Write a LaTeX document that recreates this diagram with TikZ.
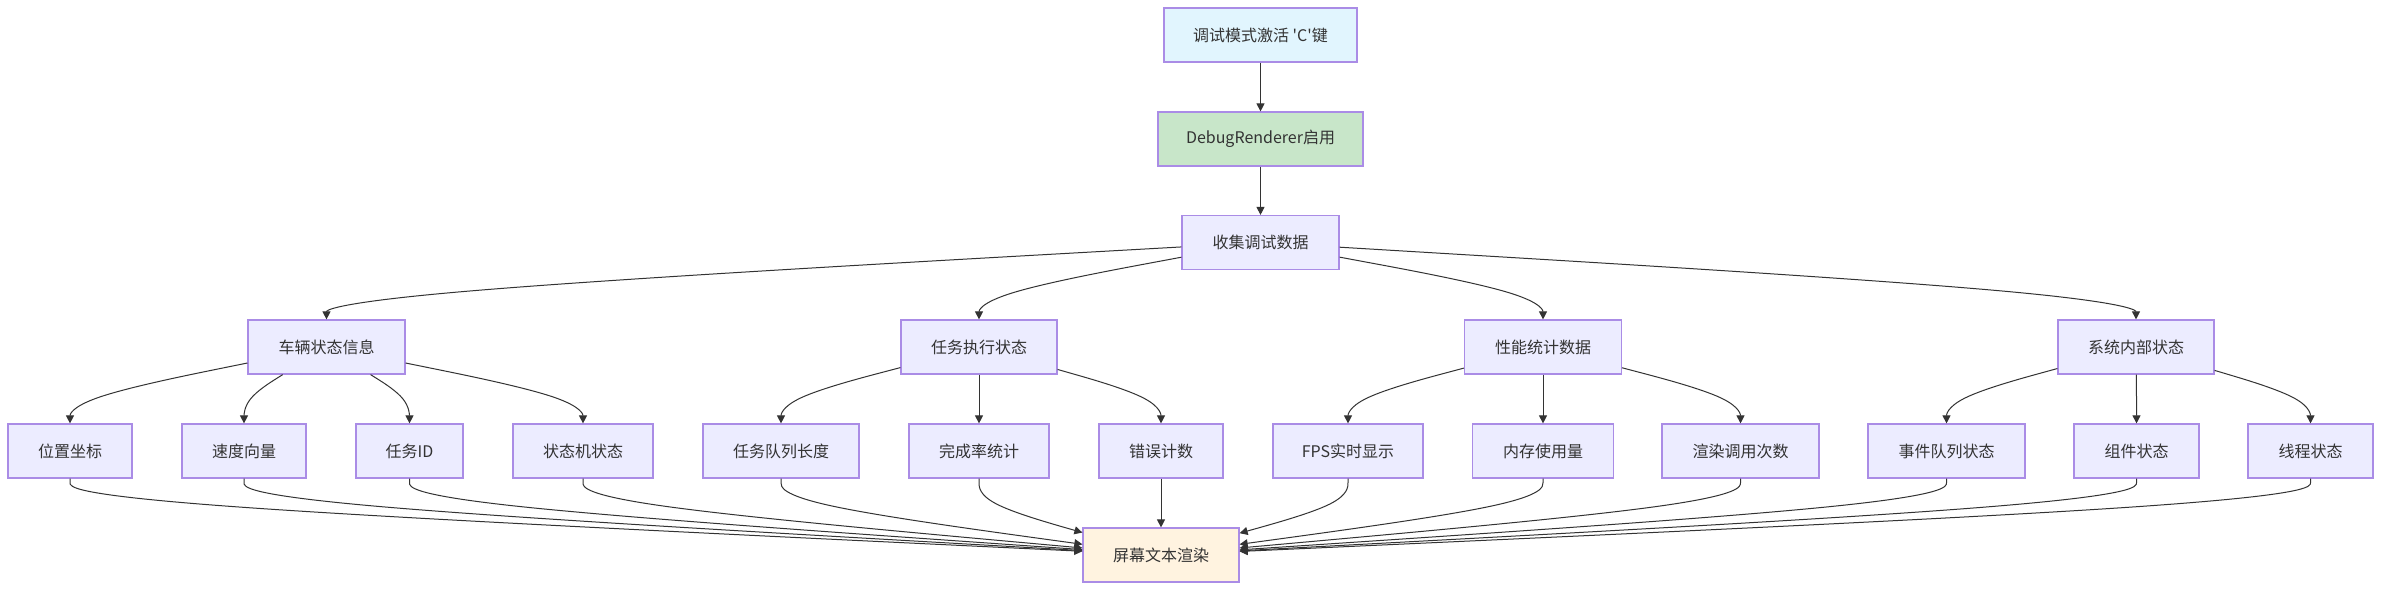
\documentclass[tikz,border=0pt]{standalone}
\usepackage{fontspec}
\setmainfont{Noto Sans CJK SC}
\newfontfamily\rawfont{Noto Sans CJK SC}
\usetikzlibrary{arrows.meta,calc}
\definecolor{bord}{RGB}{170,140,230}
\definecolor{nfill}{HTML}{ECECFF}
\definecolor{bluefill}{HTML}{E1F5FE}
\definecolor{greenfill}{HTML}{C8E6C9}
\definecolor{orangefill}{HTML}{FFF3E0}
\definecolor{txt}{HTML}{333333}
\definecolor{edgec}{HTML}{333333}
\newcommand\bedge[3]{%
  \path (#1) -- coordinate[pos=0] (q0) (#2);
  \path (#2) -- coordinate[pos=1] (q2) (#3);
  \draw[edge] (q0) -- ($(q0)!0.16667!(#2)$)
    .. controls ($(q0)!0.33333!(#2)$) and ($(q0)!0.66667!(#2)$) .. ($0.16667*(q0)+0.66667*(#2)+0.16667*(q2)$)
    .. controls ($(#2)!0.33333!(q2)$) and ($(#2)!0.66667!(q2)$) .. (q2);
}
\begin{document}
\begin{tikzpicture}[x=1pt,y=-1pt,
  box/.style={draw=bord, fill=nfill, line width=1.2pt, minimum height=54pt, inner sep=0pt,
    font=\fontsize{16}{19}\selectfont, text=txt},
  edge/.style={draw=edgec, line width=1pt, -{Triangle[length=8pt,width=8pt]}}]
\useasboundingbox[fill=white] (0,0) rectangle (2381,590);
% nodes
\node[box, fill=bluefill, minimum width=193pt] (act) at (1260.5,35) {调试模式激活 {\rawfont 'C'}键};
\node[box, fill=greenfill, minimum width=205pt] (dbg) at (1260.5,139) {DebugRenderer启用};
\node[box, minimum width=157pt] (col) at (1260.5,242.5) {收集调试数据};
\node[box, minimum width=157pt] (veh) at (326.5,347) {车辆状态信息};
\node[box, minimum width=156pt] (task) at (979,347) {任务执行状态};
\node[box, minimum width=157pt] (perf) at (1543,347) {性能统计数据};
\node[box, minimum width=156pt] (sys) at (2136,347) {系统内部状态};
\node[box, minimum width=124pt] (p1) at (70,451) {位置坐标};
\node[box, minimum width=124pt] (p2) at (244,451) {速度向量};
\node[box, minimum width=107pt] (p3) at (409.5,451) {任务ID};
\node[box, minimum width=140pt] (p4) at (583,451) {状态机状态};
\node[box, minimum width=156pt] (t1) at (781,451) {任务队列长度};
\node[box, minimum width=140pt] (t2) at (979,451) {完成率统计};
\node[box, minimum width=124pt] (t3) at (1161,451) {错误计数};
\node[box, minimum width=150pt] (f1) at (1348,451) {FPS实时显示};
\node[box, minimum width=141pt] (f2) at (1543,451) {内存使用量};
\node[box, minimum width=157pt] (f3) at (1740.5,451) {渲染调用次数};
\node[box, minimum width=157pt] (s1) at (1946.5,451) {事件队列状态};
\node[box, minimum width=125pt] (s2) at (2136.5,451) {组件状态};
\node[box, minimum width=125pt] (s3) at (2310.5,451) {线程状态};
\node[box, fill=orangefill, minimum width=156pt] (out) at (1161,555) {屏幕文本渲染};
% edges
\draw[edge] (act) -- (dbg);
\draw[edge] (dbg) -- (col);
\bedge{col}{326.5,295}{veh}
\bedge{col}{979,295}{task}
\bedge{col}{1543,295}{perf}
\bedge{col}{2136,295}{sys}
\bedge{veh}{70,399}{p1}
\bedge{veh}{244,399}{p2}
\bedge{veh}{409.5,399}{p3}
\bedge{veh}{583,399}{p4}
\bedge{task}{781,399}{t1}
\draw[edge] (task) -- (t2);
\bedge{task}{1161,399}{t3}
\bedge{perf}{1348,399}{f1}
\draw[edge] (perf) -- (f2);
\bedge{perf}{1740.5,399}{f3}
\bedge{sys}{1946.5,399}{s1}
\bedge{sys}{2136.5,399}{s2}
\bedge{sys}{2310.5,399}{s3}
\bedge{p1}{70,503}{out}
\bedge{p2}{244,503}{out}
\bedge{p3}{409.5,503}{out}
\bedge{p4}{583,503}{out}
\bedge{t1}{781,503}{out}
\bedge{t2}{979,503}{out}
\draw[edge] (t3) -- (out);
\bedge{f1}{1348,503}{out}
\bedge{f2}{1543,503}{out}
\bedge{f3}{1740.5,503}{out}
\bedge{s1}{1946.5,503}{out}
\bedge{s2}{2136.5,503}{out}
\bedge{s3}{2310.5,503}{out}
\end{tikzpicture}
\end{document}
